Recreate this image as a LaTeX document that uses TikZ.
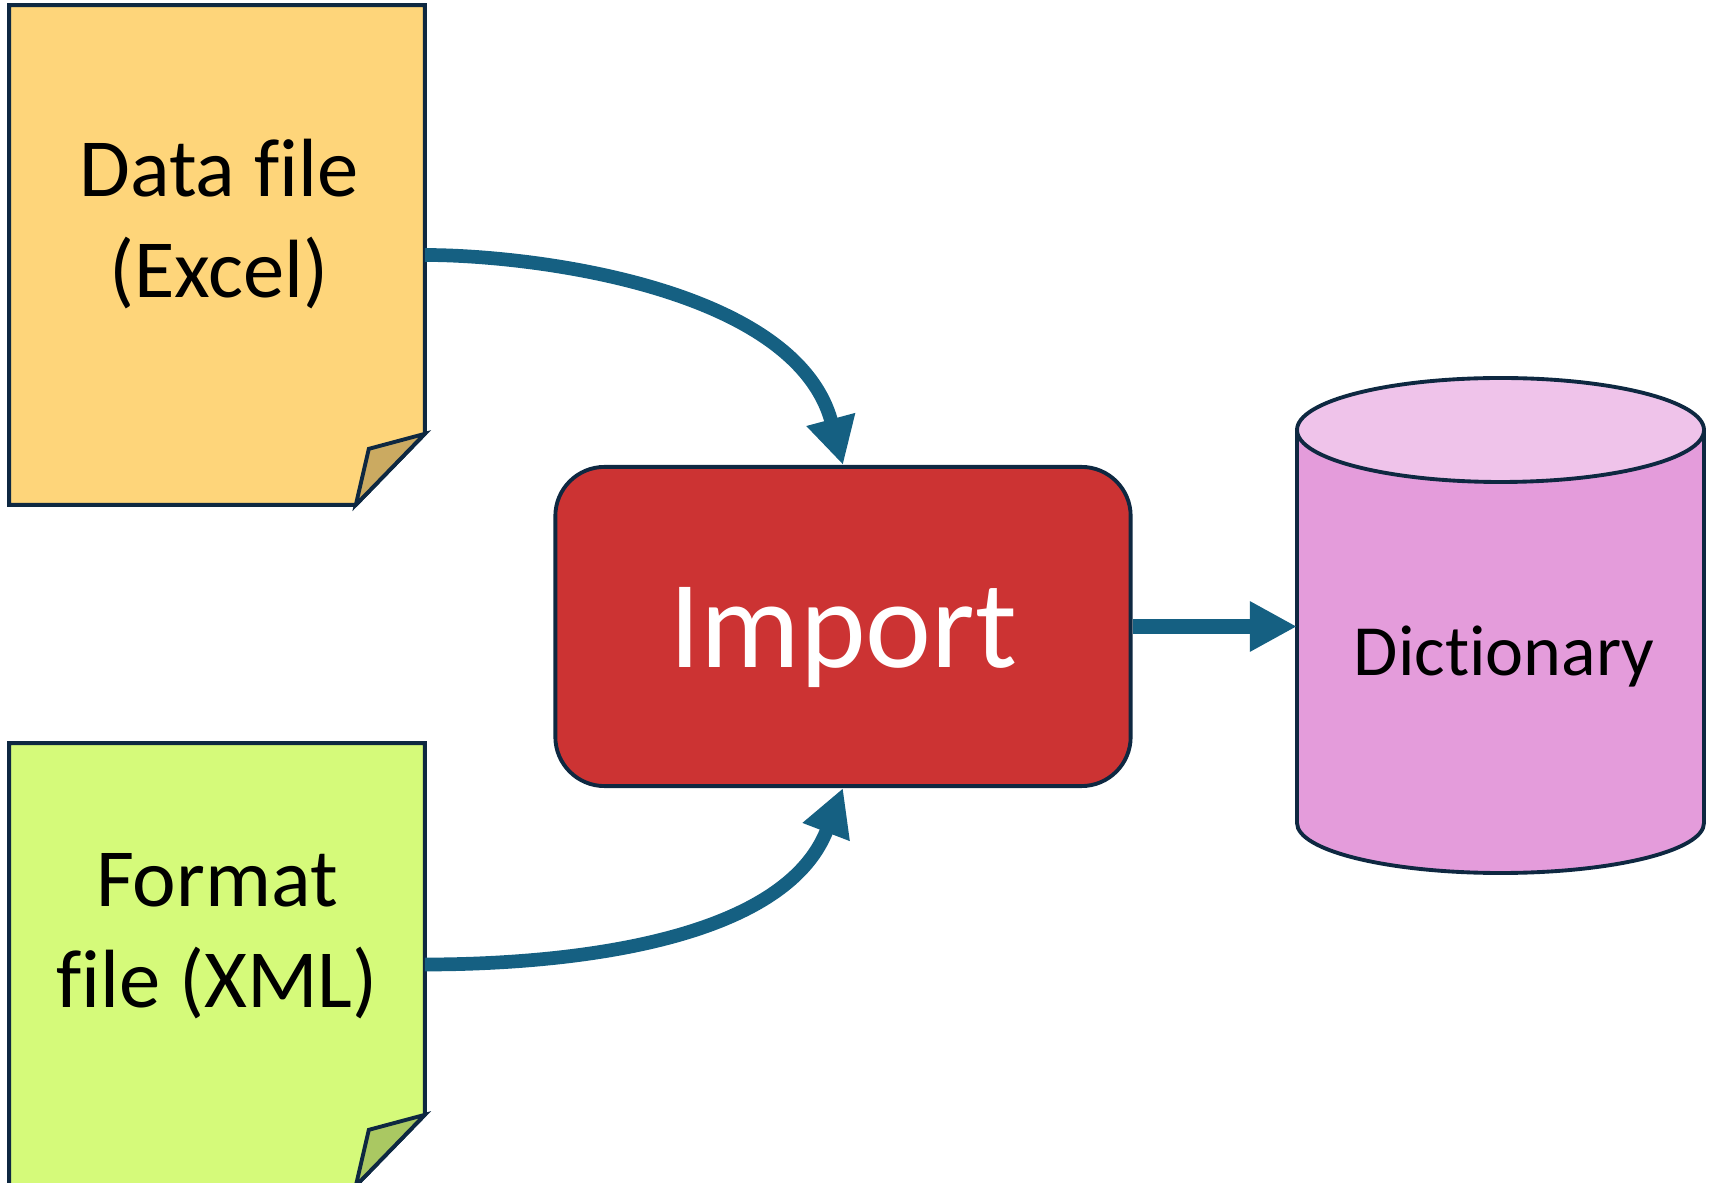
\documentclass[tikz,border=0pt]{standalone}
\usepackage{fontspec}
\setmainfont{Carlito}[Ligatures={NoCommon,NoContextual}]
\usetikzlibrary{arrows.meta,calc}

\definecolor{edge}{RGB}{14,40,65}
\definecolor{flowblue}{RGB}{21,96,130}
\definecolor{datafill}{RGB}{254,213,122}
\definecolor{datafold}{RGB}{203,170,97}
\definecolor{formatfill}{RGB}{213,250,122}
\definecolor{formatfold}{RGB}{170,200,98}
\definecolor{importred}{RGB}{204,51,51}
\definecolor{dictfill}{RGB}{228,156,219}
\definecolor{dicttop}{RGB}{239,195,234}

\tikzset{
  outline/.style={draw=edge,line width=1.1pt},
  page/.style={minimum width=4.14cm,minimum height=4.98cm,inner sep=0pt},
  doctext/.style={align=center,font=\fontsize{23.5}{29}\selectfont},
  flow/.style={draw=flowblue,line width=3.9pt,->},
}

\begin{document}
\begin{tikzpicture}[x=0.01cm,y=-0.01cm,>={Triangle[length=13.4pt,width=13.4pt]}]
    \useasboundingbox (0,0) rectangle (1715,1183) ;

    % the two files, with a folded corner
    \node [page] (data) at (217,255) {} ;
    \node [page,minimum height=4.41cm] (format) at (217,964.5) {} ;
    \foreach \p/\c/\f in {data/datafill/datafold,format/formatfill/formatfold} {
      \draw [outline,fill=\c] (\p.north west) -- (\p.north east) --
      ($(\p.south east)+(0,-71)$) -- ($(\p.south east)+(-69,0)$) --
      (\p.south west) -- cycle ;
      \draw [outline,fill=\f] ($(\p.south east)+(0,-71)$) --
      ($(\p.south east)+(-56,-56)$) -- ($(\p.south east)+(-69,0)$) -- cycle ;
    }
    % base is the last line here
    \node [doctext,anchor=base] (datatext) at (219,298) {Data file\\(Excel)} ;
    \node [doctext,anchor=base] (formattext) at (217,1008) {Format\\file (XML)} ;

    % the dictionary
    \draw [outline,fill=dictfill] (1297,430) -- (1297,823)
    arc [start angle=180,end angle=0,x radius=203.5,y radius=50] -- (1704,430) -- cycle ;
    \draw [outline,fill=dicttop] (1500.5,430) ellipse [x radius=203.5,y radius=52] ;
    \node [anchor=base,font=\fontsize{20.5}{24}\selectfont] (dict) at (1504,676) {Dictionary} ;
    \coordinate (dictin) at (1297,626.5) ;

    \node [outline,fill=importred,rounded corners=14pt,minimum width=5.75cm,
      minimum height=3.19cm,text=white,font=\fontsize{35.5}{42}\selectfont,
      text height=28pt,text depth=4.4pt] (imp) at (843,626.5) {Import} ;

    \draw [flow] (data.east) to [out=0,in=105,out looseness=0.6] (imp.north) ;
    \draw [flow] (format.east) to [out=0,in=-111,out looseness=0.55] (imp.south) ;
    \draw [flow,line width=4.5pt] (imp.east) -- (dictin) ;
\end{tikzpicture}
\end{document}
